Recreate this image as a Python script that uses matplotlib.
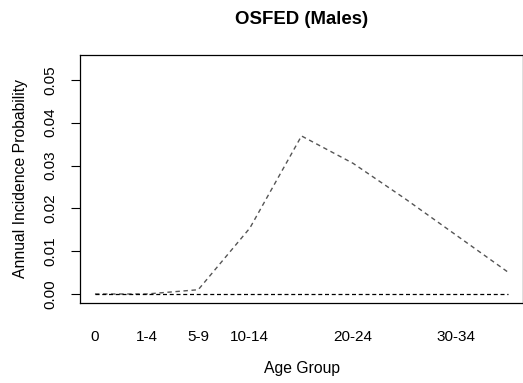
import numpy as np
import matplotlib.pyplot as plt

plt.rcParams['font.family'] = ['Liberation Sans', 'DejaVu Sans']

# Age groups and annual incidence probability for OSFED in males
age_groups = ['0', '1-4', '5-9', '10-14', '15-19', '20-24', '25-29', '30-34', '35-39']
incidence = [0.0, 0.0, 0.001, 0.0154, 0.0369, 0.0305, 0.0223, 0.0137, 0.0051]
baseline = [0.0] * len(age_groups)

# only some labels fit along the axis
shown_labels = ['0', '1-4', '5-9', '10-14', '20-24', '30-34']
y_ticks = [0.00, 0.01, 0.02, 0.03, 0.04, 0.05]

x = np.arange(len(age_groups))

fig = plt.figure(figsize=(5.23, 3.83), dpi=100)
ax = fig.add_axes([80 / 523, 1 - 303 / 383, 443 / 523, 248 / 383])

ax.plot(x, incidence, color='#555555', lw=1.0, linestyle=(0, (3.2, 2.6)))
ax.plot(x, baseline, color='black', lw=0.9, linestyle=(0, (3.2, 2.2)))

ax.set_xlim(-0.29, 8.29)
ax.set_ylim(-0.0021, 0.0558)

ax.set_xticks([age_groups.index(l) for l in shown_labels])
ax.set_xticklabels(shown_labels, fontsize=11)
ax.tick_params(axis='x', length=0, pad=19.5)

ax.set_yticks(y_ticks)
ax.set_yticklabels(['%.2f' % v for v in y_ticks], rotation=90, va='center', fontsize=11)
ax.tick_params(axis='y', length=6.5, width=0.8, pad=10)

for s in ax.spines.values():
    s.set_linewidth(0.9)

ax.set_xlabel('Age Group', fontsize=11.3, labelpad=12)
ax.set_ylabel('Annual Incidence Probability', fontsize=11.3, labelpad=11)
ax.set_title('OSFED (Males)', fontsize=13.4, fontweight='bold', pad=22)

fig.savefig('out.png', dpi=100)
